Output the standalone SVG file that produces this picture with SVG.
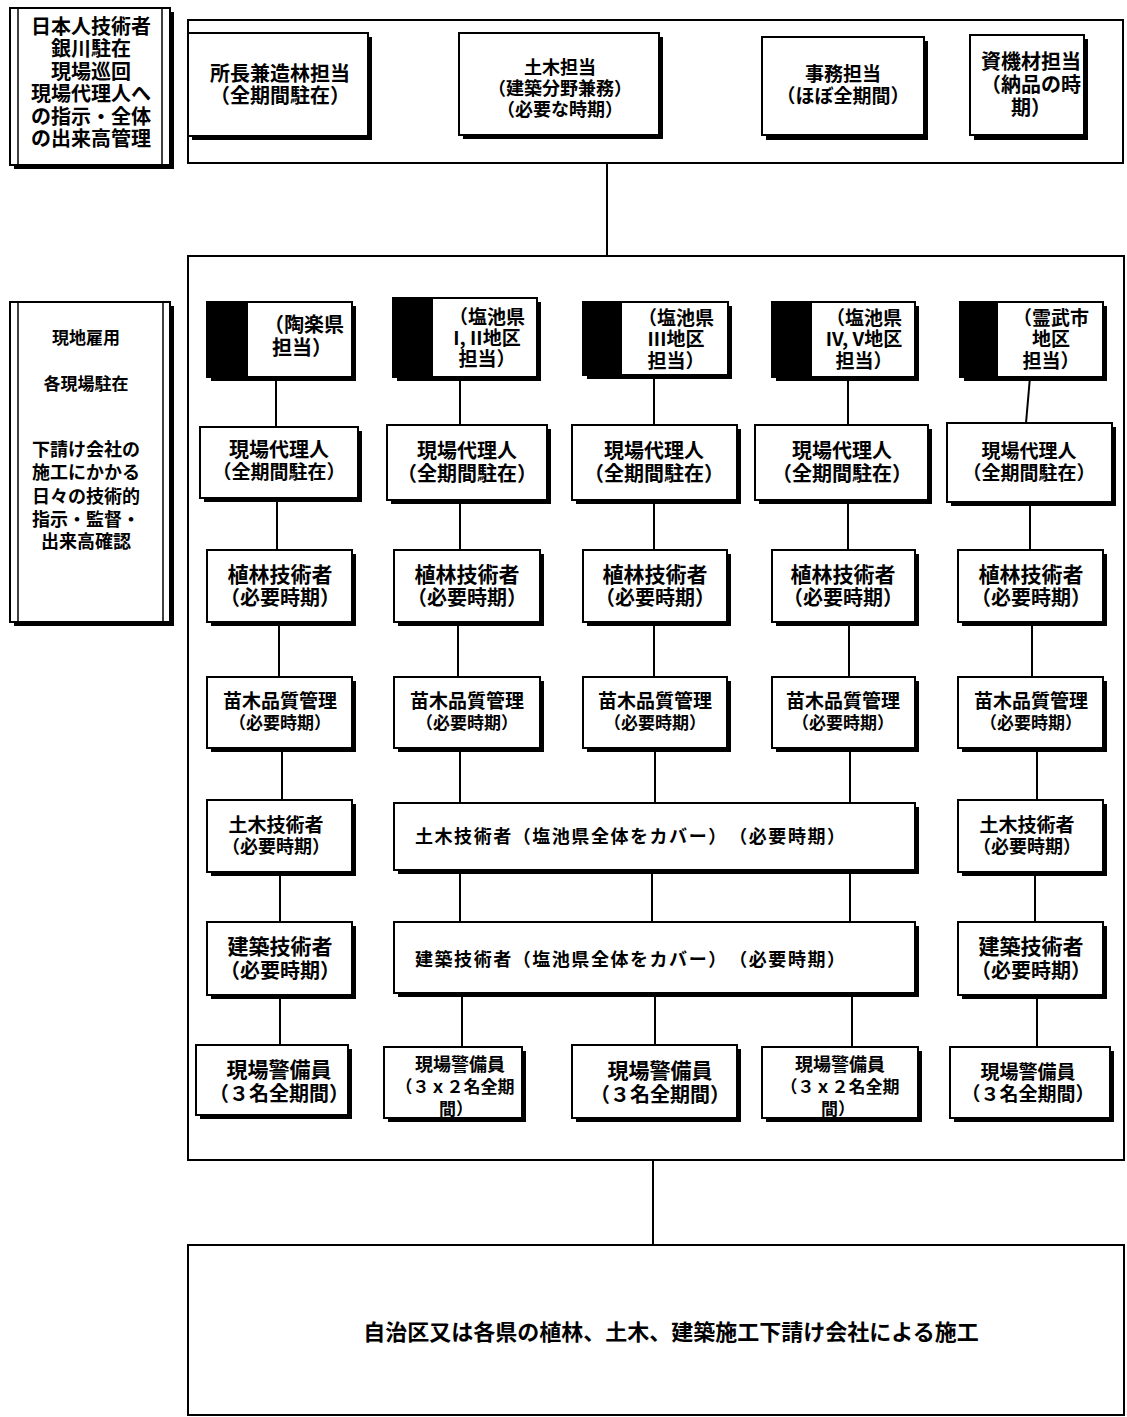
<svg xmlns="http://www.w3.org/2000/svg" width="1127" height="1417" viewBox="0 0 1127 1417">
<style>
.sh{fill:#000}
.bx{fill:#fff;stroke:#000;stroke-width:2}
.fr{fill:none;stroke:#000;stroke-width:2}
.blk{fill:#000}
.c line{stroke:#000;stroke-width:2}
text{font-family:"Noto Sans CJK JP","Noto Sans CJK SC",sans-serif;font-weight:bold;fill:#000;text-anchor:middle}
.t21{font-size:21px}
.t20{font-size:20px}
.t19{font-size:19px}
.t18{font-size:18px}
.t17{font-size:17px}
.t22{font-size:22px}
</style>
<rect width="1127" height="1417" fill="#fff"/>

<g id="connectors" class="c">
<line x1="607" y1="163" x2="607" y2="256"/>
<line x1="653" y1="1160" x2="653" y2="1245"/>
<line x1="276" y1="377" x2="276" y2="427"/>
<line x1="277" y1="500" x2="277" y2="552"/>
<line x1="279" y1="622" x2="279" y2="677"/>
<line x1="282" y1="748" x2="282" y2="800"/>
<line x1="280" y1="872" x2="280" y2="922"/>
<line x1="280" y1="995" x2="280" y2="1045"/>
<line x1="460" y1="377" x2="460" y2="425"/>
<line x1="460" y1="500" x2="460" y2="550"/>
<line x1="458" y1="622" x2="458" y2="677"/>
<line x1="460" y1="748" x2="460" y2="803"/>
<line x1="460" y1="870" x2="460" y2="922"/>
<line x1="462" y1="993" x2="462" y2="1047"/>
<line x1="654" y1="375" x2="654" y2="425"/>
<line x1="654" y1="500" x2="654" y2="550"/>
<line x1="654" y1="622" x2="654" y2="677"/>
<line x1="655" y1="748" x2="655" y2="803"/>
<line x1="652" y1="870" x2="652" y2="922"/>
<line x1="655" y1="993" x2="655" y2="1045"/>
<line x1="848" y1="377" x2="848" y2="425"/>
<line x1="848" y1="500" x2="848" y2="550"/>
<line x1="849" y1="622" x2="849" y2="677"/>
<line x1="850" y1="748" x2="850" y2="803"/>
<line x1="850" y1="870" x2="850" y2="922"/>
<line x1="852" y1="993" x2="852" y2="1047"/>
<line x1="1030" y1="377" x2="1026" y2="423"/>
<line x1="1030" y1="502" x2="1030" y2="550"/>
<line x1="1032" y1="622" x2="1032" y2="677"/>
<line x1="1037" y1="748" x2="1037" y2="800"/>
<line x1="1035" y1="872" x2="1035" y2="922"/>
<line x1="1037" y1="995" x2="1037" y2="1047"/>
</g>

<g id="note-japan">
<rect class="sh" x="14" y="12" width="160" height="157"/>
<rect class="bx" x="10" y="8" width="160" height="157"/>
<line x1="18" y1="8" x2="18" y2="165" stroke="#000" stroke-width="1.5"/>
<line x1="162" y1="8" x2="162" y2="165" stroke="#000" stroke-width="1.5"/>
<text class="t20" x="91" y="34">日本人技術者</text>
<text class="t20" x="91" y="56">銀川駐在</text>
<text class="t20" x="91" y="79">現場巡回</text>
<text class="t20" x="91" y="101">現場代理人へ</text>
<text class="t20" x="91" y="124">の指示・全体</text>
<text class="t20" x="91" y="146">の出来高管理</text>
</g>

<g id="top-group">
<rect class="fr" x="188" y="20" width="935" height="143"/>
</g>

<g id="n-shocho">
<rect class="sh" x="192" y="37" width="180" height="103"/>
<rect class="bx" x="188" y="33" width="180" height="103"/>
<text class="t20" x="280" y="81">所長兼造林担当</text>
<text class="t20" x="280" y="103">（全期間駐在）</text>
</g>
<g id="n-doboku-tanto">
<rect class="sh" x="463" y="37" width="200" height="102"/>
<rect class="bx" x="459" y="33" width="200" height="102"/>
<text class="t18" x="560" y="74">土木担当</text>
<text class="t18" x="560" y="95">（建築分野兼務）</text>
<text class="t18" x="560" y="116">（必要な時期）</text>
</g>
<g id="n-jimu">
<rect class="sh" x="766" y="41" width="162" height="99"/>
<rect class="bx" x="762" y="37" width="162" height="98"/>
<text class="t19" x="843" y="81">事務担当</text>
<text class="t19" x="843" y="103">（ほぼ全期間）</text>
</g>
<g id="n-shikizai">
<rect class="sh" x="974" y="39" width="114" height="101"/>
<rect class="bx" x="970" y="35" width="114" height="100"/>
<text class="t20" x="1031" y="69">資機材担当</text>
<text class="t20" x="1031" y="92">（納品の時</text>
<text class="t20" x="1031" y="115">期）</text>
</g>

<g id="note-local">
<rect class="sh" x="14" y="306" width="160" height="320"/>
<rect class="bx" x="10" y="302" width="160" height="320"/>
<line x1="18" y1="302" x2="18" y2="622" stroke="#000" stroke-width="1.5"/>
<line x1="163" y1="302" x2="163" y2="622" stroke="#000" stroke-width="1.5"/>
<text class="t17" x="86" y="344">現地雇用</text>
<text class="t17" x="86" y="390">各現場駐在</text>
<text class="t18" x="86" y="456">下請け会社の</text>
<text class="t18" x="86" y="479">施工にかかる</text>
<text class="t18" x="86" y="503">日々の技術的</text>
<text class="t18" x="86" y="526">指示・監督・</text>
<text class="t18" x="86" y="548">出来高確認</text>
</g>

<g id="main-group">
<rect class="fr" x="188" y="256" width="936" height="904"/>
</g>

<g id="h1">
<rect class="sh" x="211" y="306" width="145" height="75"/>
<rect class="bx" x="207" y="302" width="145" height="75"/>
<rect class="blk" x="207" y="302" width="41" height="75"/>
<text class="t20" x="304" y="332">（陶楽県</text>
<text class="t20" x="302" y="355">担当）</text>
</g>
<g id="h2">
<rect class="sh" x="397" y="302" width="144" height="79"/>
<rect class="bx" x="393" y="298" width="144" height="79"/>
<rect class="blk" x="393" y="298" width="40" height="79"/>
<text class="t19" x="487" y="324">（塩池県</text>
<text class="t19" x="487" y="345">I, II地区</text>
<text class="t19" x="487" y="366">担当）</text>
</g>
<g id="h3">
<rect class="sh" x="587" y="306" width="145" height="73"/>
<rect class="bx" x="583" y="302" width="145" height="73"/>
<rect class="blk" x="583" y="302" width="39" height="73"/>
<text class="t19" x="676" y="325">（塩池県</text>
<text class="t19" x="676" y="346">III地区</text>
<text class="t19" x="676" y="368">担当）</text>
</g>
<g id="h4">
<rect class="sh" x="776" y="306" width="143" height="75"/>
<rect class="bx" x="772" y="302" width="143" height="75"/>
<rect class="blk" x="772" y="302" width="40" height="75"/>
<text class="t19" x="864" y="325">（塩池県</text>
<text class="t19" x="864" y="346">IV, V地区</text>
<text class="t19" x="864" y="368">担当）</text>
</g>
<g id="h5">
<rect class="sh" x="964" y="306" width="143" height="75"/>
<rect class="bx" x="960" y="302" width="143" height="75"/>
<rect class="blk" x="960" y="302" width="38" height="75"/>
<text class="t19" x="1051" y="325">（霊武市</text>
<text class="t19" x="1051" y="346">地区</text>
<text class="t19" x="1051" y="368">担当）</text>
</g>

<g id="d1"><rect class="sh" x="204" y="431" width="158" height="71"/><rect class="bx" x="200" y="427" width="158" height="71"/>
<text class="t20" x="279" y="457">現場代理人</text><text class="t19" x="279" y="479">（全期間駐在）</text></g>
<g id="d2"><rect class="sh" x="391" y="429" width="160" height="75"/><rect class="bx" x="387" y="425" width="160" height="75"/>
<text class="t20" x="467" y="458">現場代理人</text><text class="t20" x="467" y="481">（全期間駐在）</text></g>
<g id="d3"><rect class="sh" x="576" y="429" width="165" height="75"/><rect class="bx" x="572" y="425" width="165" height="75"/>
<text class="t20" x="654" y="458">現場代理人</text><text class="t20" x="654" y="481">（全期間駐在）</text></g>
<g id="d4"><rect class="sh" x="759" y="429" width="173" height="75"/><rect class="bx" x="755" y="425" width="173" height="75"/>
<text class="t20" x="842" y="458">現場代理人</text><text class="t20" x="842" y="481">（全期間駐在）</text></g>
<g id="d5"><rect class="sh" x="951" y="427" width="165" height="79"/><rect class="bx" x="947" y="423" width="165" height="79"/>
<text class="t19" x="1029" y="458">現場代理人</text><text class="t19" x="1029" y="480">（全期間駐在）</text></g>

<g id="s1"><rect class="sh" x="211" y="554" width="145" height="72"/><rect class="bx" x="207" y="550" width="145" height="72"/>
<text class="t21" x="280" y="582">植林技術者</text><text class="t20" x="280" y="605">（必要時期）</text></g>
<g id="s2"><rect class="sh" x="398" y="554" width="146" height="72"/><rect class="bx" x="394" y="550" width="146" height="72"/>
<text class="t21" x="467" y="582">植林技術者</text><text class="t20" x="467" y="605">（必要時期）</text></g>
<g id="s3"><rect class="sh" x="587" y="554" width="144" height="72"/><rect class="bx" x="583" y="550" width="144" height="72"/>
<text class="t21" x="655" y="582">植林技術者</text><text class="t20" x="655" y="605">（必要時期）</text></g>
<g id="s4"><rect class="sh" x="776" y="554" width="143" height="72"/><rect class="bx" x="772" y="550" width="143" height="72"/>
<text class="t21" x="843" y="582">植林技術者</text><text class="t20" x="843" y="605">（必要時期）</text></g>
<g id="s5"><rect class="sh" x="962" y="554" width="145" height="72"/><rect class="bx" x="958" y="550" width="145" height="72"/>
<text class="t21" x="1031" y="582">植林技術者</text><text class="t20" x="1031" y="605">（必要時期）</text></g>

<g id="q1"><rect class="sh" x="211" y="681" width="145" height="71"/><rect class="bx" x="207" y="677" width="145" height="71"/>
<text class="t19" x="280" y="708">苗木品質管理</text><text class="t17" x="280" y="729">（必要時期）</text></g>
<g id="q2"><rect class="sh" x="398" y="681" width="146" height="71"/><rect class="bx" x="394" y="677" width="146" height="71"/>
<text class="t19" x="467" y="708">苗木品質管理</text><text class="t17" x="467" y="729">（必要時期）</text></g>
<g id="q3"><rect class="sh" x="587" y="681" width="144" height="71"/><rect class="bx" x="583" y="677" width="144" height="71"/>
<text class="t19" x="655" y="708">苗木品質管理</text><text class="t17" x="655" y="729">（必要時期）</text></g>
<g id="q4"><rect class="sh" x="776" y="681" width="143" height="71"/><rect class="bx" x="772" y="677" width="143" height="71"/>
<text class="t19" x="843" y="708">苗木品質管理</text><text class="t17" x="843" y="729">（必要時期）</text></g>
<g id="q5"><rect class="sh" x="962" y="681" width="145" height="71"/><rect class="bx" x="958" y="677" width="145" height="71"/>
<text class="t19" x="1031" y="708">苗木品質管理</text><text class="t17" x="1031" y="729">（必要時期）</text></g>

<g id="c1"><rect class="sh" x="211" y="804" width="145" height="72"/><rect class="bx" x="207" y="800" width="145" height="72"/>
<text class="t19" x="276" y="832">土木技術者</text><text class="t18" x="276" y="853">（必要時期）</text></g>
<g id="c-wide"><rect class="sh" x="398" y="807" width="521" height="67"/><rect class="bx" x="394" y="803" width="521" height="67"/>
<text class="t18" x="415" y="843" style="text-anchor:start" textLength="430" lengthAdjust="spacing">土木技術者（塩池県全体をカバー）　（必要時期）</text></g>
<g id="c5"><rect class="sh" x="962" y="804" width="145" height="72"/><rect class="bx" x="958" y="800" width="145" height="72"/>
<text class="t19" x="1027" y="832">土木技術者</text><text class="t18" x="1027" y="853">（必要時期）</text></g>

<g id="a1"><rect class="sh" x="211" y="926" width="145" height="73"/><rect class="bx" x="207" y="922" width="145" height="73"/>
<text class="t21" x="280" y="954">建築技術者</text><text class="t20" x="280" y="978">（必要時期）</text></g>
<g id="a-wide"><rect class="sh" x="398" y="926" width="521" height="71"/><rect class="bx" x="394" y="922" width="521" height="71"/>
<text class="t18" x="415" y="966" style="text-anchor:start" textLength="430" lengthAdjust="spacing">建築技術者（塩池県全体をカバー）　（必要時期）</text></g>
<g id="a5"><rect class="sh" x="962" y="926" width="145" height="73"/><rect class="bx" x="958" y="922" width="145" height="73"/>
<text class="t21" x="1031" y="954">建築技術者</text><text class="t20" x="1031" y="978">（必要時期）</text></g>

<g id="g1"><rect class="sh" x="200" y="1049" width="152" height="70"/><rect class="bx" x="196" y="1045" width="152" height="70"/>
<text class="t21" x="279" y="1077">現場警備員</text><text class="t20" x="279" y="1101">（３名全期間）</text></g>
<g id="g2"><rect class="sh" x="388" y="1051" width="138" height="71"/><rect class="bx" x="384" y="1047" width="138" height="71"/>
<text class="t18" x="460" y="1071">現場警備員</text><text class="t17" x="455" y="1093">（３ｘ２名全期</text><text class="t17" x="456" y="1115">間）</text></g>
<g id="g3"><rect class="sh" x="576" y="1049" width="165" height="73"/><rect class="bx" x="572" y="1045" width="165" height="73"/>
<text class="t21" x="660" y="1078">現場警備員</text><text class="t20" x="660" y="1102">（３名全期間）</text></g>
<g id="g4"><rect class="sh" x="766" y="1051" width="156" height="71"/><rect class="bx" x="762" y="1047" width="156" height="71"/>
<text class="t18" x="840" y="1071">現場警備員</text><text class="t17" x="840" y="1093">（３ｘ２名全期</text><text class="t17" x="838" y="1115">間）</text></g>
<g id="g5"><rect class="sh" x="954" y="1051" width="160" height="71"/><rect class="bx" x="950" y="1047" width="160" height="71"/>
<text class="t19" x="1028" y="1079">現場警備員</text><text class="t19" x="1028" y="1101">（３名全期間）</text></g>

<g id="subcontract">
<rect class="bx" x="188" y="1245" width="936" height="170" fill="#fbfbfb"/>
<text class="t22" x="671" y="1340">自治区又は各県の植林、土木、建築施工下請け会社による施工</text>
</g>
</svg>
